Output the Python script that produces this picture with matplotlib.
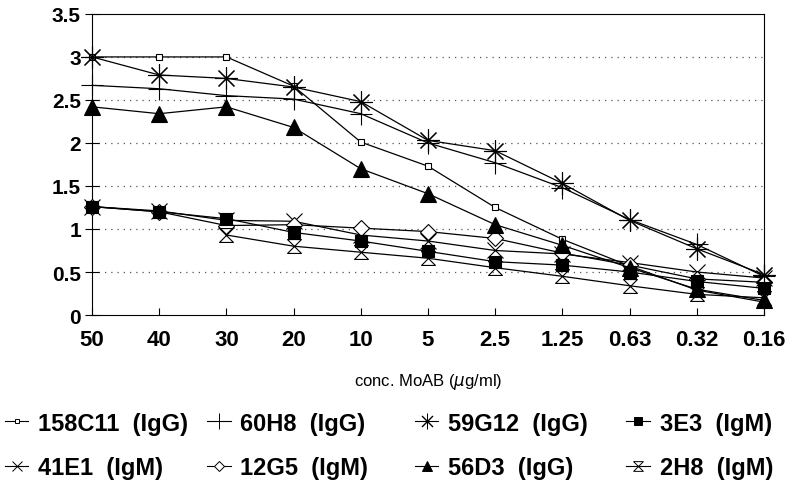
"""
Binding of monoclonal antibodies (MoAB) at decreasing concentrations.
"""

import numpy as np
import matplotlib
matplotlib.use('Agg')
import matplotlib.pyplot as plt
from matplotlib.lines import Line2D

CONC_LABELS = ['50', '40', '30', '20', '10', '5', '2.5', '1.25', '0.63', '0.32', '0.16']

VALS_158C11 = [3.0, 3.0, 3.0, 2.66, 2.01, 1.73, 1.25, 0.88, 0.57, 0.29, 0.15]
VALS_60H8 = [2.67, 2.63, 2.55, 2.51, 2.34, 2.0, 1.77, 1.48, 1.11, 0.82, 0.45]
VALS_59G12 = [3.0, 2.79, 2.75, 2.65, 2.48, 2.03, 1.91, 1.53, 1.1, 0.77, 0.47]
VALS_3E3 = [1.26, 1.2, 1.12, 0.96, 0.86, 0.74, 0.62, 0.58, 0.5, 0.39, 0.31]
VALS_41E1 = [1.26, 1.21, 1.1, 1.09, 0.93, 0.86, 0.75, 0.71, 0.61, 0.5, 0.43]
VALS_12G5 = [1.26, 1.2, 1.04, 1.05, 1.01, 0.97, 0.89, 0.72, 0.58, 0.42, 0.38]
VALS_56D3 = [2.42, 2.34, 2.42, 2.18, 1.7, 1.41, 1.05, 0.81, 0.55, 0.3, 0.17]
VALS_2H8 = [np.nan, np.nan, 0.93, 0.8, 0.73, 0.66, 0.55, 0.45, 0.34, 0.24, 0.2]

HOURGLASS = [(-1, 1), (1, 1), (-1, -1), (1, -1), (-1, 1)]

# name, values, marker, size, face
SERIES = [
    ('158C11  (IgG)', VALS_158C11, 's', 4, 'white'),
    ('41E1  (IgM)', VALS_41E1, 'x', 11, 'none'),
    ('60H8  (IgG)', VALS_60H8, '+', 16, 'none'),
    ('12G5  (IgM)', VALS_12G5, 'D', 8, 'white'),
    ('59G12  (IgG)', VALS_59G12, (8, 2, 0), 16, 'none'),
    ('56D3  (IgG)', VALS_56D3, '^', 11, 'black'),
    ('3E3  (IgM)', VALS_3E3, 's', 8, 'black'),
    ('2H8  (IgM)', VALS_2H8, HOURGLASS, 10, 'none'),
]

# left edge (figure fraction) of each legend column
LEGEND_COLS = [0.006, 0.26, 0.521, 0.787]

plt.rcParams['font.family'] = ['Liberation Sans', 'DejaVu Sans']

fig = plt.figure(figsize=(7.96, 4.81), dpi=100)
ax = fig.add_axes([0.1156, 0.343, 0.8442, 0.626])

x = np.arange(len(CONC_LABELS))
handles = []
for name, vals, marker, size, face in SERIES:
    ax.plot(x, vals, color='black', linewidth=0.9, marker=marker,
            markersize=size, markerfacecolor=face,
            markeredgecolor='black', markeredgewidth=0.8,
            clip_on=False, zorder=3)
    handles.append(Line2D([], [], color='black', linewidth=0.8, marker=marker,
                          markersize=size * 0.7, markerfacecolor=face,
                          markeredgecolor='black', markeredgewidth=0.7,
                          label=name))

ax.set_xlim(0, len(CONC_LABELS) - 1)
ax.set_ylim(0, 3.5)
ax.set_xticks(x)
ax.set_xticklabels(CONC_LABELS, fontsize=16, fontweight='bold')
ax.set_yticks([0, 0.5, 1, 1.5, 2, 2.5, 3, 3.5])
ax.set_yticklabels(['0', '0.5', '1', '1.5', '2', '2.5', '3', '3.5'],
                   fontsize=15, fontweight='bold')
ax.tick_params(axis='x', direction='in', length=5, width=0.8, pad=10)
ax.tick_params(axis='y', direction='inout', length=10, width=0.8, pad=3)

for gy in [0.5, 1, 1.5, 2, 2.5, 3]:
    ax.axhline(gy, color='#555555', linewidth=0.9, linestyle=(0, (1, 4)),
               zorder=1)

for side in ax.spines.values():
    side.set_linewidth(0.8)

ax.set_xlabel(r'conc. MoAB ($\mu$g/ml)', fontsize=12, labelpad=15)

# one small legend per column, two rows each
for i, col_x in enumerate(LEGEND_COLS):
    fig.legend(handles=handles[2 * i:2 * i + 2], loc='upper left',
               bbox_to_anchor=(col_x, 0.142), frameon=False,
               prop={'size': 17, 'weight': 'bold'},
               handlelength=1.0, handletextpad=0.4, borderpad=0.0,
               borderaxespad=0.0, labelspacing=0.9)

fig.savefig('out.png', dpi=100)
